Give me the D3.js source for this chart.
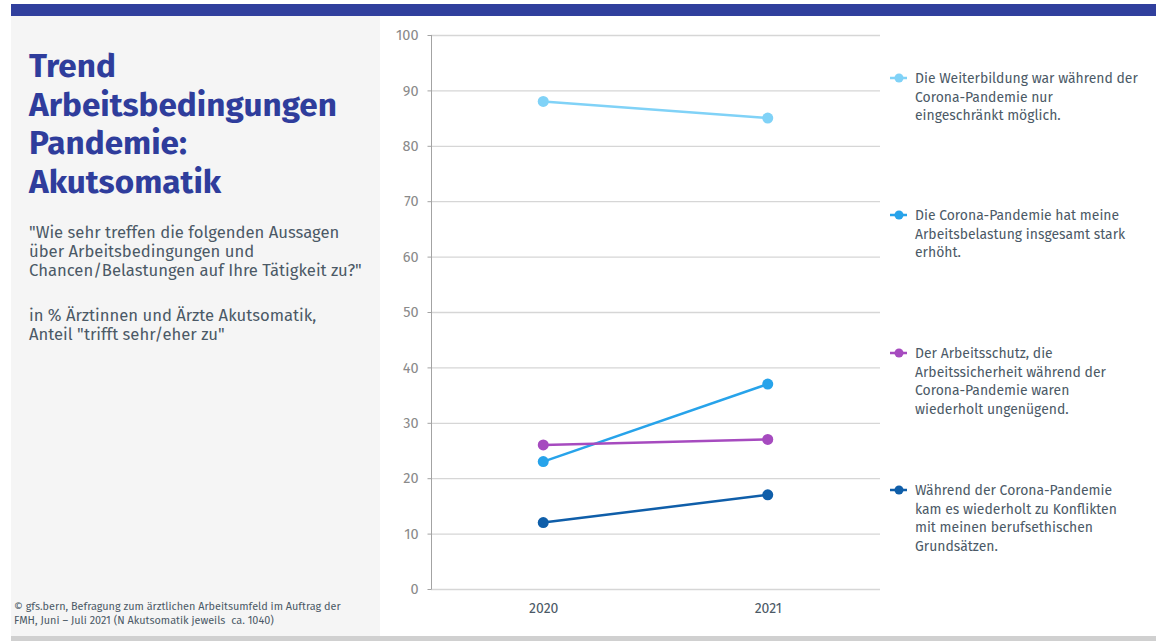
<!DOCTYPE html>
<html>
<head>
<meta charset="utf-8">
<script src="https://cdn.jsdelivr.net/npm/d3@7"></script>
<style>
  html, body { margin: 0; padding: 0; background: #fff; }
  svg { display: block; }
  text { font-family: "Fira Sans", Lato, "Open Sans", sans-serif; white-space: pre; }
</style>
</head>
<body>
<svg id="chart" width="1156" height="641"></svg>
<script>
// Survey years
const years = ["2020", "2021"];

// Share "trifft sehr/eher zu" in % per statement
const weiterbildung = [88, 85];
const arbeitsbelastung = [23, 37];
const arbeitsschutz = [26, 27];
const berufsethik = [12, 17];

const seriesNames = [
  "Die Weiterbildung war während der Corona-Pandemie nur eingeschränkt möglich.",
  "Die Corona-Pandemie hat meine Arbeitsbelastung insgesamt stark erhöht.",
  "Der Arbeitsschutz, die Arbeitssicherheit während der Corona-Pandemie waren wiederholt ungenügend.",
  "Während der Corona-Pandemie kam es wiederholt zu Konflikten mit meinen berufsethischen Grundsätzen."
];
const legendLines = [
  ["Die Weiterbildung war während der", "Corona-Pandemie nur", "eingeschränkt möglich."],
  ["Die Corona-Pandemie hat meine", "Arbeitsbelastung insgesamt stark", "erhöht."],
  ["Der Arbeitsschutz, die", "Arbeitssicherheit während der", "Corona-Pandemie waren", "wiederholt ungenügend."],
  ["Während der Corona-Pandemie", "kam es wiederholt zu Konflikten", "mit meinen berufsethischen", "Grundsätzen."]
];
const seriesColors = ["#80d2f7", "#27a3ea", "#a64bbf", "#0f5ea9"];
const yTicks = [0, 10, 20, 30, 40, 50, 60, 70, 80, 90, 100];

const titleLines = ["Trend", "Arbeitsbedingungen", "Pandemie:", "Akutsomatik"];
const questionLines = [
  "\"Wie sehr treffen die folgenden Aussagen",
  "über Arbeitsbedingungen und",
  "Chancen/Belastungen auf Ihre Tätigkeit zu?\""
];
const baseLines = ["in % Ärztinnen und Ärzte Akutsomatik,", "Anteil \"trifft sehr/eher zu\""];
const sourceLines = [
  "© gfs.bern, Befragung zum ärztlichen Arbeitsumfeld im Auftrag der",
  "FMH, Juni – Juli 2021 (N Akutsomatik jeweils  ca. 1040)"
];

const series = [weiterbildung, arbeitsbelastung, arbeitsschutz, berufsethik].map((vals, i) => ({
  name: seriesNames[i],
  color: seriesColors[i],
  lines: legendLines[i],
  values: vals.map((v, j) => ({ year: years[j], value: v }))
}));

const svg = d3.select("#chart");
const textColor = "#4b5966";

// Page frame: header band, side panel, footer strip
svg.append("rect").attr("x", 11).attr("y", 4).attr("width", 1145).attr("height", 12).attr("fill", "#303f9d");
svg.append("rect").attr("x", 11).attr("y", 16).attr("width", 369).attr("height", 620).attr("fill", "#f5f5f5");
svg.append("rect").attr("x", 11).attr("y", 636).attr("width", 1145).attr("height", 5).attr("fill", "#d0d0d0");

// Scale a text block's font so its widest line spans the given width
function fitBlock(sel, width) {
  let maxW = 0;
  sel.each(function () { maxW = Math.max(maxW, this.getComputedTextLength()); });
  const fs = parseFloat(sel.attr("font-size"));
  sel.attr("font-size", fs * width / maxW);
}

// Title
const title = svg.append("g").selectAll("text").data(titleLines).join("text")
  .attr("x", 29).attr("y", (d, i) => 77 + i * 38.5)
  .attr("font-size", 32).attr("font-weight", 700).attr("fill", "#2f3d9c")
  .text(d => d);
fitBlock(title, 308);

const question = svg.append("g").selectAll("text").data(questionLines).join("text")
  .attr("x", 29).attr("y", (d, i) => 238 + i * 19.2)
  .attr("font-size", 16).attr("fill", textColor).text(d => d);
fitBlock(question, 333);

const base = svg.append("g").selectAll("text").data(baseLines).join("text")
  .attr("x", 29).attr("y", (d, i) => 321 + i * 19.2)
  .attr("font-size", 16).attr("fill", textColor).text(d => d);
base.attr("font-size", question.attr("font-size"));

const source = svg.append("g").selectAll("text").data(sourceLines).join("text")
  .attr("x", 14).attr("y", (d, i) => 610 + i * 13.5)
  .attr("font-size", 11).attr("fill", textColor).text(d => d);
fitBlock(source, 327);

// Plot area
const plot = { left: 431, right: 880, top: 35, bottom: 589 };
const x = d3.scalePoint().domain(years).range([plot.left, plot.right]).padding(0.5);
const y = d3.scaleLinear().domain([0, 100]).range([plot.bottom, plot.top]);

// Horizontal gridlines
svg.append("g").selectAll("line").data(yTicks).join("line")
  .attr("x1", plot.left).attr("x2", plot.right)
  .attr("y1", d => y(d) + 0.5).attr("y2", d => y(d) + 0.5)
  .attr("stroke", "#d6d6d6").attr("stroke-width", 1.3);

// Y axis
const yAxis = svg.append("g").attr("transform", `translate(${plot.left + 0.5},0)`)
  .call(d3.axisLeft(y).tickValues(yTicks).tickSize(4).tickPadding(9));
yAxis.select(".domain").attr("stroke", "#a3a3a3").attr("d", `M0,${plot.top}V${plot.bottom}`);
yAxis.selectAll(".tick line").attr("stroke", "#a3a3a3");
yAxis.selectAll(".tick text").attr("fill", "#8a8a8a").attr("font-size", 14.5)
  .attr("font-family", "\"Fira Sans\", Lato, sans-serif");

// X axis labels
const xAxis = svg.append("g").attr("transform", `translate(0,${plot.bottom})`)
  .call(d3.axisBottom(x).tickSize(0).tickPadding(14));
xAxis.select(".domain").remove();
xAxis.selectAll(".tick text").attr("fill", textColor).attr("font-size", 14)
  .attr("font-family", "\"Fira Sans\", Lato, sans-serif");

// Lines and markers
const line = d3.line().x(d => x(d.year)).y(d => y(d.value));
const sg = svg.append("g").selectAll("g").data(series).join("g");
sg.append("path").attr("d", d => line(d.values)).attr("fill", "none")
  .attr("stroke", d => d.color).attr("stroke-width", 2.5);
sg.selectAll("circle").data(d => d.values.map(v => ({ ...v, color: d.color }))).join("circle")
  .attr("cx", d => x(d.year)).attr("cy", d => y(d.value)).attr("r", 5.5)
  .attr("fill", d => d.color);

// Legend
const legendTop = [78, 215, 353, 490];
const lg = svg.append("g").selectAll("g").data(series).join("g")
  .attr("transform", (d, i) => `translate(890,${legendTop[i]})`);
lg.append("line").attr("x1", 0).attr("x2", 17).attr("stroke", d => d.color).attr("stroke-width", 2.5);
lg.append("circle").attr("cx", 9).attr("r", 4.5).attr("fill", d => d.color);
const legendText = lg.selectAll("text").data(d => d.lines).join("text")
  .attr("x", 25).attr("y", (d, i) => 5 + i * 18.5)
  .attr("font-size", 14).attr("fill", textColor).text(d => d);
fitBlock(legendText, 223);
</script>
</body>
</html>
